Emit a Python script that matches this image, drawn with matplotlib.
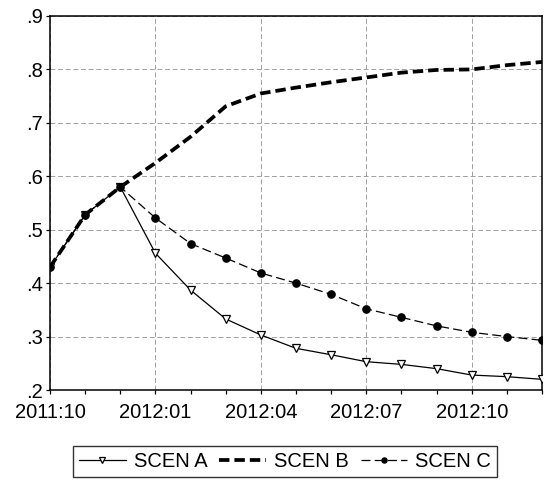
import matplotlib
matplotlib.use("Agg")
import matplotlib.pyplot as plt
from matplotlib.ticker import FixedLocator, FuncFormatter

months = ["2011:10", "2011:11", "2011:12", "2012:01", "2012:02", "2012:03", "2012:04",
          "2012:05", "2012:06", "2012:07", "2012:08", "2012:09", "2012:10", "2012:11",
          "2012:12"]
scen_a = [0.430, 0.528, 0.580, 0.456, 0.387, 0.333, 0.303, 0.278, 0.266, 0.253,
          0.248, 0.240, 0.228, 0.225, 0.220]
scen_b = [0.430, 0.528, 0.580, 0.625, 0.674, 0.731, 0.755, 0.766, 0.776, 0.785,
          0.794, 0.799, 0.800, 0.808, 0.814]
scen_c = [0.430, 0.528, 0.580, 0.522, 0.474, 0.447, 0.419, 0.400, 0.379, 0.352,
          0.336, 0.320, 0.308, 0.300, 0.293]

plt.rcParams["font.family"] = ["Liberation Sans", "DejaVu Sans"]
plt.rcParams["font.size"] = 14.5
plt.rcParams["lines.scale_dashes"] = False

fig = plt.figure(figsize=(5.46, 4.83), dpi=100)
ax = fig.add_axes([0.0916, 0.1925, 0.9011, 0.7744])

x = list(range(len(months)))
ax.plot(x, scen_a, color="black", lw=0.9, marker="v", ms=5.5, mfc="white",
        mec="black", mew=0.9, label="SCEN A", zorder=4)
ax.plot(x, scen_b, color="black", lw=2.7, dashes=(7.5, 3.6), label="SCEN B", zorder=3)
ax.plot(x, scen_c, color="black", lw=0.9, dashes=(6.5, 3.0), marker="o", ms=5.2,
        mfc="black", mec="black", label="SCEN C", zorder=5)

ax.set_xlim(0, len(months) - 1)
ax.set_ylim(0.2, 0.9)
major_x = [0, 3, 6, 9, 12]
ax.xaxis.set_major_locator(FixedLocator(major_x))
ax.xaxis.set_minor_locator(FixedLocator(x))
ax.xaxis.set_major_formatter(FuncFormatter(lambda v, p: months[int(round(v))]))
ax.set_yticks([0.2, 0.3, 0.4, 0.5, 0.6, 0.7, 0.8, 0.9])
ax.yaxis.set_major_formatter(FuncFormatter(lambda v, p: f"{v:.1f}".lstrip("0")))
ax.tick_params(axis="both", which="both", direction="out", length=3.2, width=0.9,
               color="black")
ax.tick_params(axis="x", pad=6)
ax.tick_params(axis="y", pad=2)

ax.grid(True, which="major", color="#a0a0a0", lw=0.7, linestyle=(0, (3.5, 2)))
for s in ax.spines.values():
    s.set_linewidth(1.1)
    s.set_color("black")

leg = fig.legend(loc="center", bbox_to_anchor=(0.522, 0.0445), ncol=3, frameon=True,
                 fancybox=False, edgecolor="black", handlelength=2.3, handletextpad=0.4,
                 columnspacing=0.6, borderpad=0.3, markerscale=0.7)
leg.get_frame().set_linewidth(1.0)

fig.savefig("out.png", dpi=100)
